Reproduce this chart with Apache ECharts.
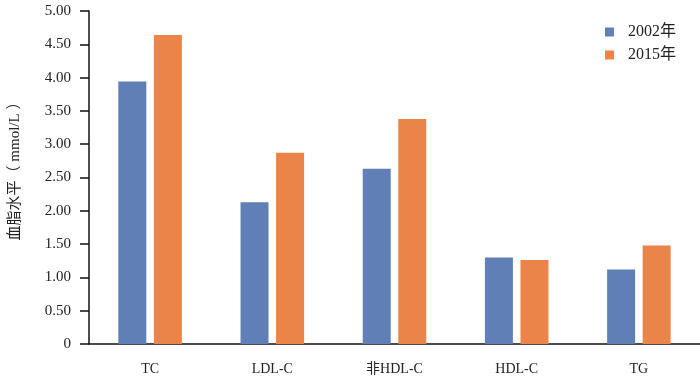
<!DOCTYPE html>
<html><head><meta charset="utf-8">
<script src="https://cdn.jsdelivr.net/npm/echarts@6/dist/echarts.min.js"></script>
<style>html,body{margin:0;padding:0;background:#fff}#c{width:700px;height:383px}</style>
</head><body><div id="c"></div>
<script>
const categories = ['TC', 'LDL-C', '非HDL-C', 'HDL-C', 'TG'];
const seriesNames = ['2002年', '2015年'];
const values2002 = [3.94, 2.13, 2.63, 1.30, 1.12];
const values2015 = [4.64, 2.87, 3.38, 1.26, 1.48];
const yTicks = ['0', '0.50', '1.00', '1.50', '2.00', '2.50', '3.00', '3.50', '4.00', '4.50', '5.00'];
const yName = '血脂水平（ mmol/L ）';

const font = '"Liberation Serif", "Noto Sans CJK SC", serif';
const chart = echarts.init(document.getElementById('c'));
chart.setOption({
  animation: false,
  grid: { left: 86, right: -5, top: 11, bottom: 39 },
  legend: {
    orient: 'vertical', left: 600, top: 19, itemWidth: 9, itemHeight: 9, itemGap: 7,
    icon: 'rect',
    textStyle: { fontFamily: font, fontSize: 16, color: '#222', padding: [0, 0, 0, 9] },
    data: seriesNames
  },
  xAxis: {
    type: 'category', data: categories,
    axisLine: { lineStyle: { color: '#111', width: 1.5 } },
    axisTick: { show: false },
    axisLabel: { margin: 18, fontFamily: font, fontSize: 14, color: '#222' }
  },
  yAxis: {
    type: 'value', min: 0, max: 5, interval: 0.5,
    name: yName, nameLocation: 'middle', nameGap: 66, nameRotate: 90,
    nameTextStyle: { fontFamily: font, fontSize: 15, color: '#222', padding: [0, 0, 0, 20] },
    axisLine: { show: true, lineStyle: { color: '#111', width: 1.5 } },
    axisTick: { show: true, length: 9, lineStyle: { color: '#111', width: 1.5 } },
    splitLine: { show: false },
    axisLabel: {
      margin: 18, fontFamily: font, fontSize: 15, color: '#222',
      formatter: (v) => yTicks[Math.round(v / 0.5)]
    }
  },
  series: [
    { name: seriesNames[0], type: 'bar', data: values2002, barWidth: 28, barGap: '27%',
      itemStyle: { color: '#5f7fb6' } },
    { name: seriesNames[1], type: 'bar', data: values2015, barWidth: 28,
      itemStyle: { color: '#ea8448' } }
  ]
});
</script></body></html>
